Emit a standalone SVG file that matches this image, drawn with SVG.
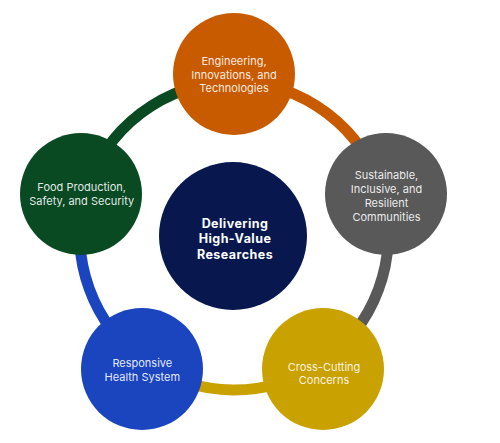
<svg xmlns="http://www.w3.org/2000/svg" width="500" height="443" viewBox="0 0 500 443">
<style>
.ring{fill:none;stroke-width:11}
.lbl{font-family:Inter,"Noto Sans","Liberation Sans",sans-serif;font-size:11px;fill:#ffffff;fill-opacity:0.9;text-anchor:middle}
.ctr{font-family:Inter,"Noto Sans","Liberation Sans",sans-serif;font-size:12.5px;font-weight:700;letter-spacing:0.45px;fill:#ffffff;text-anchor:middle}
</style>
<rect width="500" height="443" fill="#ffffff"/>
<g id="connectors">
<path class="ring" stroke="#C85A00" d="M234,82 A154,154 0 0 1 382.5,195.1"/>
<path class="ring" stroke="#595959" d="M382.5,195.1 A154,154 0 0 1 319.6,364"/>
<path class="ring" stroke="#C9A100" d="M319.6,364 A154,154 0 0 1 146.3,362.6"/>
<path class="ring" stroke="#1B44BF" d="M146.3,362.6 A154,154 0 0 1 85.5,195.1"/>
<path class="ring" stroke="#0A4A23" d="M85.5,195.1 A154,154 0 0 1 234,82"/>
</g>
<g id="center">
<circle cx="233" cy="236" r="74" fill="#08184F"/>
<text class="ctr" x="235" y="228">Delivering</text>
<text class="ctr" x="235" y="243.3">High-Value</text>
<text class="ctr" x="235" y="258.6">Researches</text>
</g>
<g id="engineering">
<circle cx="234" cy="74" r="61" fill="#C85A00"/>
<text class="lbl" x="234" y="65">Engineering,</text>
<text class="lbl" x="234" y="78.5">Innovations, and</text>
<text class="lbl" x="234" y="92">Technologies</text>
</g>
<g id="sustainable">
<circle cx="386" cy="194" r="61" fill="#595959"/>
<text class="lbl" x="386.5" y="179">Sustainable,</text>
<text class="lbl" x="386.5" y="192.7">Inclusive, and</text>
<text class="lbl" x="386.5" y="206.5">Resilient</text>
<text class="lbl" x="386.5" y="220.5">Communities</text>
</g>
<g id="crosscutting">
<circle cx="323" cy="369" r="61" fill="#C9A100"/>
<text class="lbl" x="324" y="370.7">Cross-Cutting</text>
<text class="lbl" x="324" y="384.3">Concerns</text>
</g>
<g id="health">
<circle cx="142" cy="369" r="61" fill="#1B44BF"/>
<text class="lbl" x="142.3" y="367.3">Responsive</text>
<text class="lbl" x="142.3" y="381">Health System</text>
</g>
<g id="food">
<circle cx="81" cy="194" r="61" fill="#0A4A23"/>
<text class="lbl" x="81.7" y="191">Food Production,</text>
<text class="lbl" x="81.7" y="205">Safety, and Security</text>
</g>
</svg>
